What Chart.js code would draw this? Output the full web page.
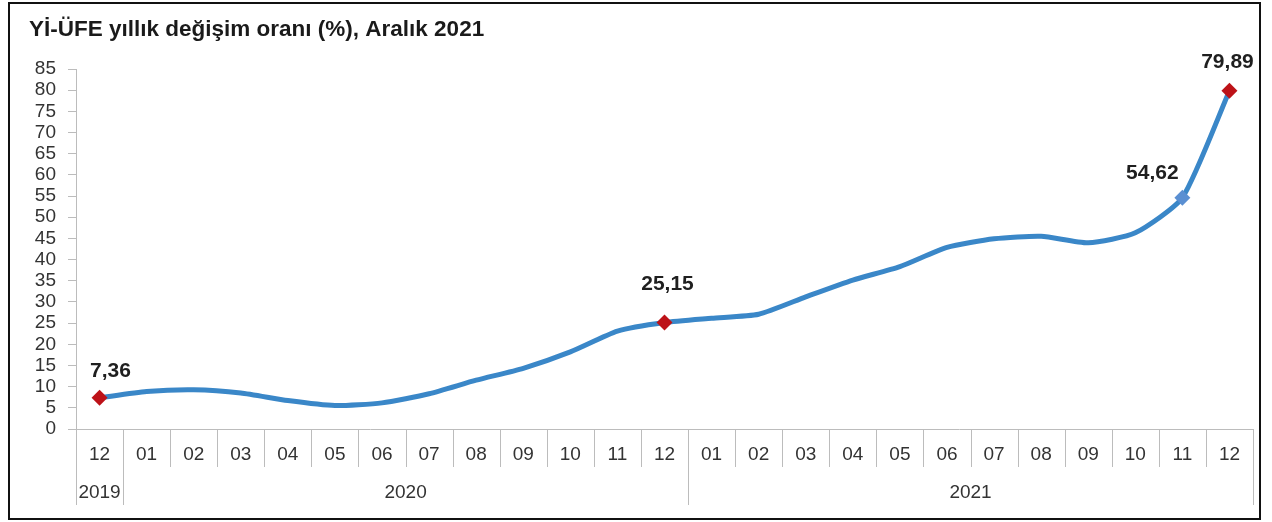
<!DOCTYPE html>
<html>
<head>
<meta charset="utf-8">
<script src="https://cdn.jsdelivr.net/npm/chart.js@4.4.1/dist/chart.umd.min.js"></script>
<style>
  html, body { margin: 0; padding: 0; background: #fff; }
  #wrap { position: relative; width: 1272px; height: 522px; }
  #frame { position: absolute; left: 8px; top: 2px; width: 1249px; height: 514px; border: 2px solid #111; pointer-events: none; }
</style>
</head>
<body>
<div id="wrap">
  <canvas id="c" width="1272" height="522"></canvas>
  <div id="frame"></div>
</div>
<script>
const titleText = "Yİ-ÜFE yıllık değişim oranı (%), Aralık 2021";
const months = ["12","01","02","03","04","05","06","07","08","09","10","11","12",
                "01","02","03","04","05","06","07","08","09","10","11","12"];
const years = ["2019","2020","2021"];
const yearSpans = [1, 12, 12];
const values = [7.36, 8.84, 9.26, 8.50, 6.71, 5.53, 6.17, 8.33, 11.53, 14.33, 18.20, 23.11, 25.15,
                26.16, 27.09, 31.20, 35.17, 38.33, 42.89, 44.92, 45.52, 43.96, 46.31, 54.62, 79.89];
const yTicks = [0,5,10,15,20,25,30,35,40,45,50,55,60,65,70,75,80,85];
const labelledPoints = [0, 12, 23, 24];

const FONT = "'Liberation Sans', Arial, sans-serif";
const RED = "#bd1218", BLUE_MARK = "#5a8fd2", LINE = "#3a87c8";
const labelOffsets = {0: [11, -27], 12: [3, -38], 23: [-30, -24], 24: [-2, -28]};

const pointColors = values.map((v, i) => i === 23 ? BLUE_MARK : RED);
const pointRadii = values.map((v, i) => labelledPoints.includes(i) ? 8 : 0);

const fmt = v => v.toFixed(2).replace(".", ",");

const decor = {
  id: "decor",
  afterDraw(chart) {
    const ctx = chart.ctx;
    const x = chart.scales.x, ca = chart.chartArea;
    const half = (x.getPixelForValue(1) - x.getPixelForValue(0)) / 2;
    const base = ca.bottom;
    ctx.save();
    // title
    ctx.fillStyle = "#1a1a1a";
    ctx.font = "bold 22.5px " + FONT;
    ctx.textBaseline = "middle";
    ctx.textAlign = "left";
    ctx.fillText(titleText, 29, 30);
    // month separators & year boundaries
    ctx.strokeStyle = "#bcbcbc";
    ctx.lineWidth = 1;
    const boundaries = new Set();
    let acc = 0;
    boundaries.add(0);
    yearSpans.forEach(s => { acc += s; boundaries.add(acc); });
    for (let i = 0; i <= months.length; i++) {
      const px = Math.round(x.getPixelForValue(i) - half) + 0.5;
      const len = boundaries.has(i) ? 76 : 38;
      ctx.beginPath();
      ctx.moveTo(px, base);
      ctx.lineTo(px, base + len);
      ctx.stroke();
    }
    // year labels
    ctx.fillStyle = "#333";
    ctx.font = "19px " + FONT;
    ctx.textAlign = "center";
    acc = 0;
    years.forEach((y, k) => {
      const a = x.getPixelForValue(acc) - half;
      const b = x.getPixelForValue(acc + yearSpans[k] - 1) + half;
      ctx.fillText(y, (a + b) / 2, base + 64);
      acc += yearSpans[k];
    });
    // data labels
    const meta = chart.getDatasetMeta(0);
    ctx.fillStyle = "#1f1f1f";
    ctx.font = "bold 21px " + FONT;
    labelledPoints.forEach(i => {
      const el = meta.data[i];
      const off = labelOffsets[i];
      ctx.fillText(fmt(values[i]), el.x + off[0], el.y + off[1]);
    });
    ctx.restore();
  }
};

new Chart(document.getElementById("c"), {
  type: "line",
  data: {
    labels: months,
    datasets: [{
      data: values,
      borderColor: LINE,
      borderWidth: 5,
      tension: 0.2,
      pointStyle: "rectRot",
      pointRadius: pointRadii,
      pointBackgroundColor: pointColors,
      pointBorderColor: pointColors,
      pointBorderWidth: 0,
      pointHoverRadius: pointRadii
    }]
  },
  options: {
    responsive: false,
    animation: false,
    events: [],
    layout: { padding: { top: 69, right: 19, left: 0, bottom: 0 } },
    plugins: { legend: { display: false }, tooltip: { enabled: false }, title: { display: false } },
    scales: {
      x: {
        type: "category",
        offset: true,
        grid: { display: false },
        border: { display: true, color: "#bcbcbc", width: 1 },
        ticks: { color: "#333", font: { size: 19, family: FONT }, padding: 6, maxRotation: 0, autoSkip: false },
        afterFit(s) { s.height = 93; }
      },
      y: {
        min: 0, max: 85,
        afterBuildTicks(s) { s.ticks = yTicks.map(v => ({ value: v })); },
        grid: { drawOnChartArea: false, tickLength: 8, color: "#bcbcbc" },
        border: { display: true, color: "#bcbcbc", width: 1 },
        ticks: { color: "#333", autoSkip: false, font: { size: 19, family: FONT }, padding: 12 },
        afterFit(s) { s.width = 76; }
      }
    }
  },
  plugins: [decor]
});
</script>
</body>
</html>
